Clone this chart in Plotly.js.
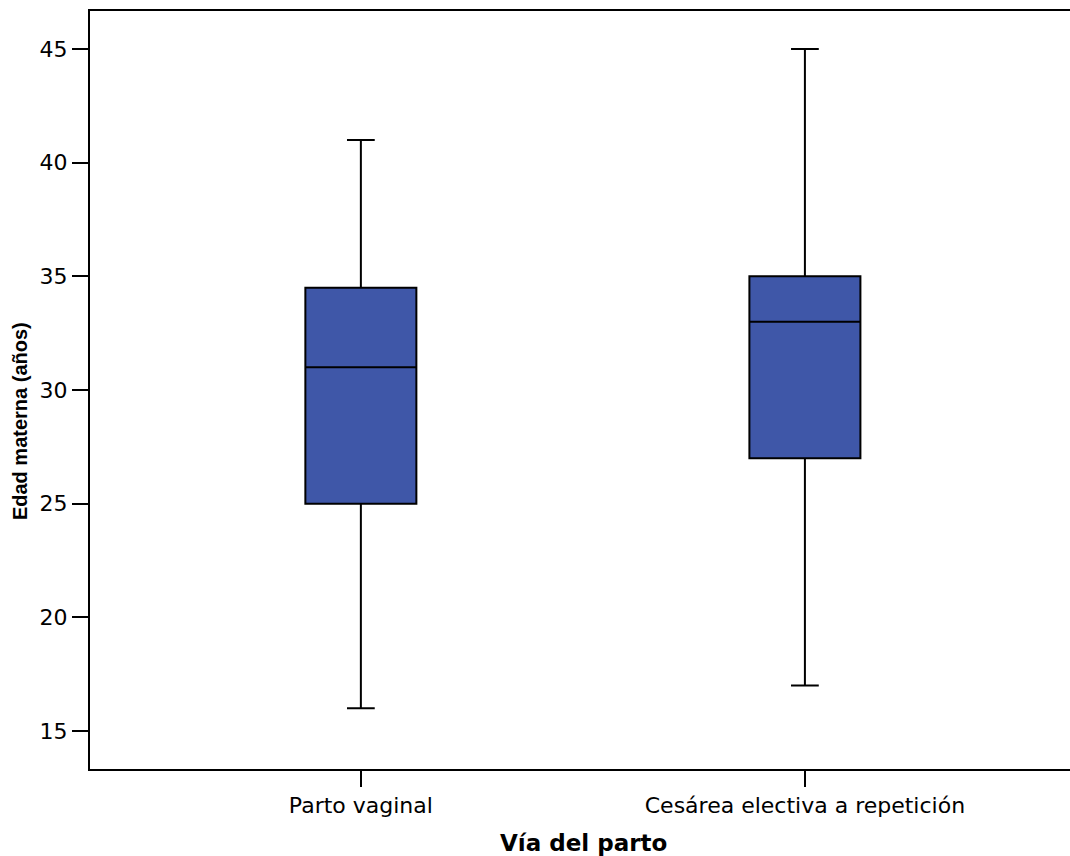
<!DOCTYPE html>
<html>
<head>
<meta charset="utf-8">
<script src="https://cdn.plot.ly/plotly-3.0.1.min.js"></script>
<style>html,body{margin:0;padding:0;background:#fff;}#chart{width:1070px;height:856px;}</style>
</head>
<body>
<div id="chart"></div>
<script>
const categories = ["Parto vaginal", "Cesárea electiva a repetición"];
const q1Values = [25, 27];
const medianValues = [31, 33];
const q3Values = [34.5, 35];
const lowerValues = [16, 17];
const upperValues = [41, 45];
const yTicks = [15, 20, 25, 30, 35, 40, 45];
const xTitle = "Vía del parto";
const yTitle = "Edad materna (años)";

const trace = {
  type: 'box',
  x: categories,
  q1: q1Values,
  median: medianValues,
  q3: q3Values,
  lowerfence: lowerValues,
  upperfence: upperValues,
  width: 0.25,
  whiskerwidth: 0.25,
  fillcolor: '#3F57A8',
  line: {color: '#000000', width: 2},
  boxpoints: false,
  hoverinfo: 'skip',
  showlegend: false
};

const tickFont = {size: 22, family: 'DejaVu Sans, sans-serif', color: '#000'};

const layout = {
  width: 1070,
  height: 856,
  margin: {l: 90, r: 0, t: 11, b: 87},
  paper_bgcolor: '#ffffff',
  plot_bgcolor: '#ffffff',
  font: {family: 'DejaVu Sans, sans-serif', color: '#000'},
  xaxis: {
    type: 'category',
    range: [-0.61, 1.597],
    showgrid: false,
    zeroline: false,
    showline: true,
    mirror: true,
    linecolor: '#000',
    linewidth: 2,
    ticks: 'outside',
    ticklen: 16,
    tickwidth: 2,
    tickcolor: '#000',
    tickfont: tickFont
  },
  yaxis: {
    range: [13.33, 46.67],
    tickvals: yTicks,
    showgrid: false,
    zeroline: false,
    showline: true,
    linecolor: '#000',
    linewidth: 2,
    ticks: 'outside',
    ticklen: 16,
    tickwidth: 2,
    tickcolor: '#000',
    tickfont: tickFont
  },
  annotations: [
    {
      text: '<b>' + xTitle + '</b>',
      xref: 'paper', yref: 'paper',
      x: 0.504, y: -0.0976,
      xanchor: 'center', yanchor: 'middle',
      showarrow: false,
      font: {size: 23, family: 'DejaVu Sans, sans-serif', color: '#000'}
    },
    {
      text: '<b>' + yTitle + '</b>',
      xref: 'paper', yref: 'paper',
      x: -0.0714, y: 0.459,
      xanchor: 'center', yanchor: 'middle',
      textangle: -90,
      showarrow: false,
      font: {size: 20, family: 'Liberation Sans, Arial, sans-serif', color: '#000'}
    }
  ]
};

Plotly.newPlot('chart', [trace], layout, {displayModeBar: false, staticPlot: true});
</script>
</body>
</html>
